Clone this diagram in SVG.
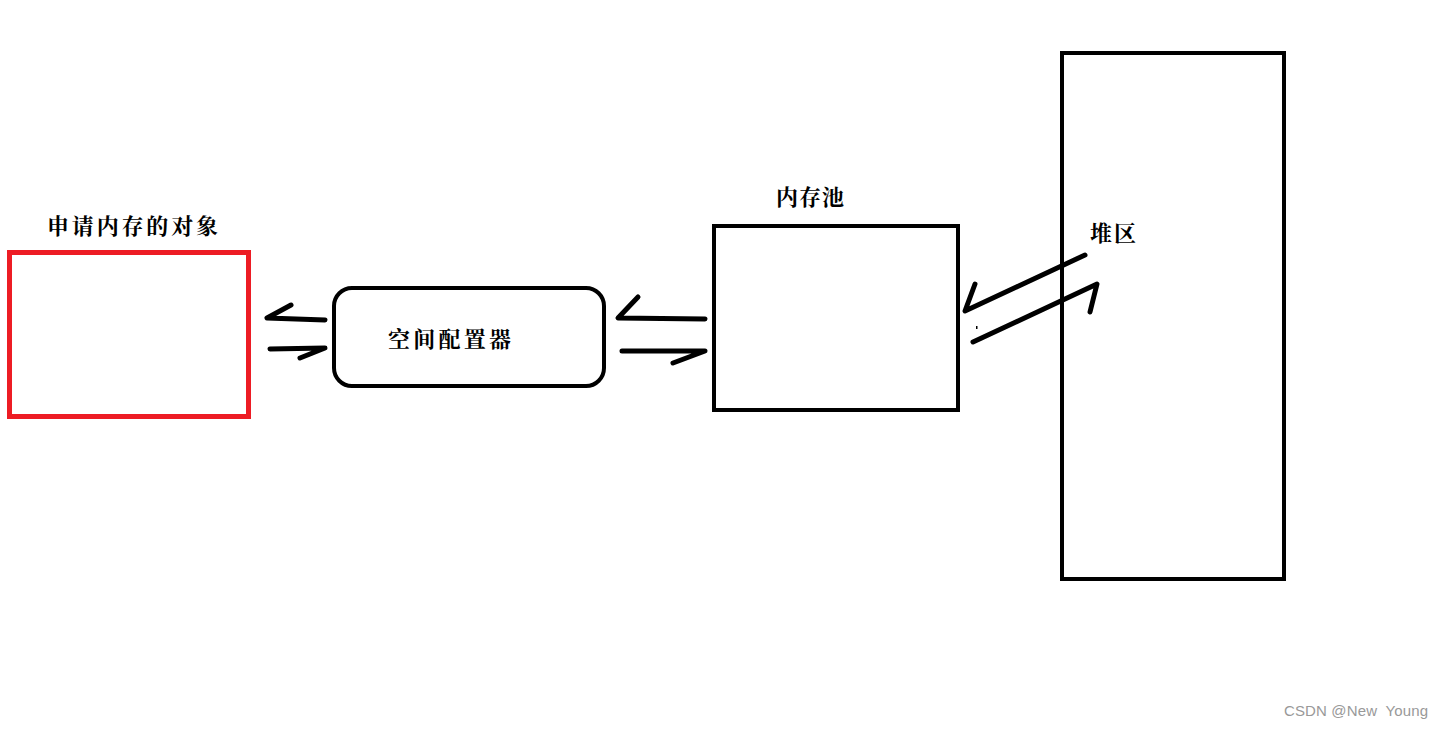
<svg xmlns="http://www.w3.org/2000/svg" width="1443" height="729" viewBox="0 0 1443 729">
<style>
.box{fill:none;stroke:#000;stroke-width:4}
.ln{fill:none;stroke:#000;stroke-width:5;stroke-linecap:round;stroke-linejoin:round}
.t{font-family:"Noto Serif CJK SC","Noto Sans CJK SC",serif;font-weight:bold;font-size:22px;fill:#000}
.wm{font-family:"Liberation Sans",Arial,sans-serif;font-size:15px;fill:#999;white-space:pre}
</style>
<rect width="1443" height="729" fill="#fff"/>
<g id="requester">
<rect x="9.5" y="252.5" width="239" height="164" fill="none" stroke="#ed1c24" stroke-width="5"/>
<text class="t" x="47" y="234" textLength="171" lengthAdjust="spacing">申请内存的对象</text>
</g>
<g id="allocator">
<rect class="box" x="334" y="288" width="270" height="98" rx="18" ry="18"/>
<text class="t" x="388" y="347" textLength="123" lengthAdjust="spacing">空间配置器</text>
</g>
<g id="pool">
<rect class="box" x="714" y="226" width="244" height="184"/>
<text class="t" x="776" y="205" textLength="68" lengthAdjust="spacing">内存池</text>
</g>
<g id="heap">
<rect class="box" x="1062" y="53" width="222" height="526"/>
<text class="t" x="1090" y="241" textLength="46" lengthAdjust="spacing">堆区</text>
</g>
<g id="connectors">
<polyline class="ln" points="291,305 267,318 325,320"/>
<polyline class="ln" points="270,349 325,348 300,358"/>
<polyline class="ln" points="638,297 618,318 705,319"/>
<polyline class="ln" points="622,351 705,351 673,363"/>
<polyline class="ln" points="1085,255 965,311 975,284"/>
<polyline class="ln" points="973,342 1097,284 1090,312"/>
<rect x="976" y="326" width="1.5" height="3" fill="#000"/>
</g>
<text class="wm" x="1284" y="716" xml:space="preserve" textLength="144" lengthAdjust="spacing">CSDN @New  Young</text>
</svg>
